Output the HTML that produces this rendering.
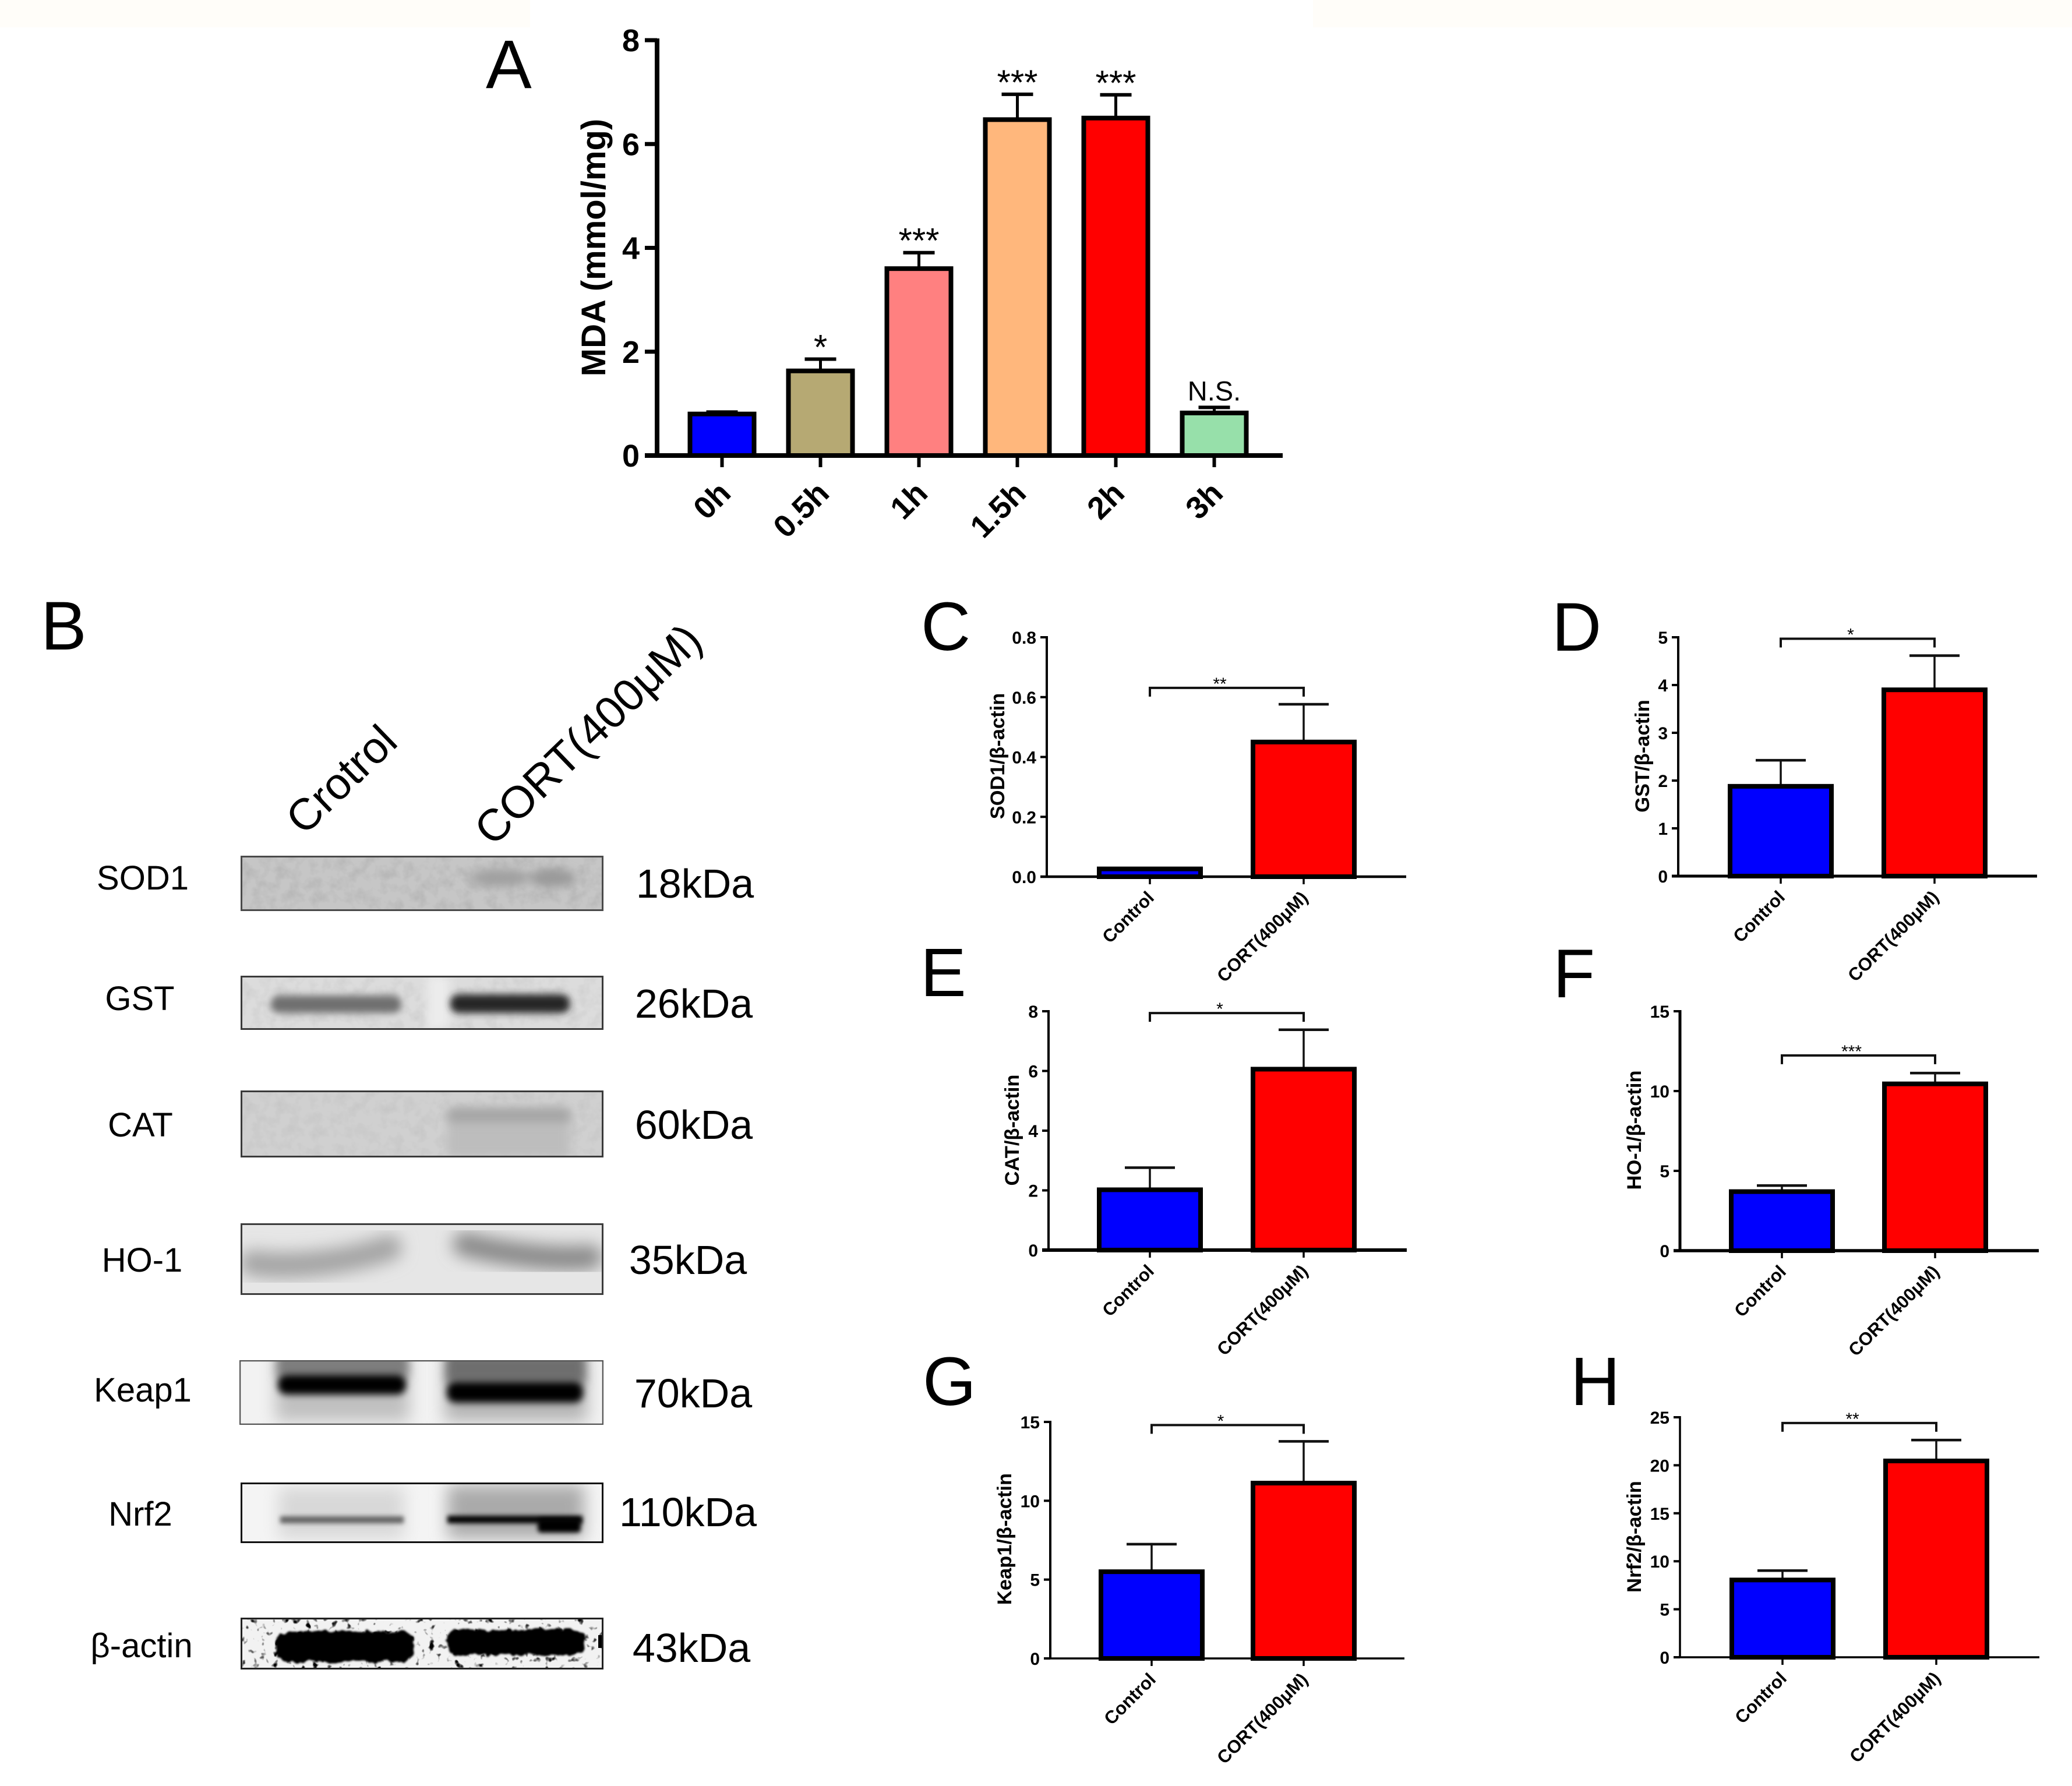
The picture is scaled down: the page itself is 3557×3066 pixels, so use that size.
<!DOCTYPE html>
<html lang="en">
<head>
<meta charset="utf-8">
<title>MDA and antioxidant protein expression figure</title>
<style>
html,body{margin:0;padding:0;background:#fff;}
svg{display:block;}
text{font-family:"Liberation Sans","DejaVu Sans",sans-serif;fill:#000;}
</style>
</head>
<body>
<svg id="figure" xmlns="http://www.w3.org/2000/svg" width="3557" height="3066" viewBox="0 0 3557 3066">
<defs>
<filter id="b4" x="-30%" y="-100%" width="160%" height="300%"><feGaussianBlur stdDeviation="4"/></filter>
<filter id="b6" x="-30%" y="-100%" width="160%" height="300%"><feGaussianBlur stdDeviation="6"/></filter>
<filter id="b8" x="-30%" y="-100%" width="160%" height="300%"><feGaussianBlur stdDeviation="8"/></filter>
<filter id="b14" x="-30%" y="-100%" width="160%" height="300%"><feGaussianBlur stdDeviation="14"/></filter>
<filter id="specks" x="0" y="0" width="100%" height="100%">
<feTurbulence type="fractalNoise" baseFrequency="0.09" numOctaves="2" seed="7"/>
<feColorMatrix type="matrix" values="0 0 0 0 0  0 0 0 0 0  0 0 0 0 0  3.2 3.2 0 0 -3.6"/>
</filter>
<filter id="grain" x="0" y="0" width="100%" height="100%">
<feTurbulence type="fractalNoise" baseFrequency="0.05" numOctaves="3" seed="3"/>
<feColorMatrix type="matrix" values="0 0 0 0 0  0 0 0 0 0  0 0 0 0 0  0.9 0 0 0 -0.36"/>
</filter>
<filter id="ragged" x="-10%" y="-60%" width="120%" height="220%">
<feTurbulence type="fractalNoise" baseFrequency="0.07" numOctaves="2" seed="11" result="n"/>
<feDisplacementMap in="SourceGraphic" in2="n" scale="14" xChannelSelector="R" yChannelSelector="G"/>
<feGaussianBlur stdDeviation="1.5"/>
</filter>
</defs>
<rect width="3557" height="3066" fill="#ffffff"/>
<rect width="910" height="47" fill="#fffdf9"/>
<rect x="2254" width="1303" height="47" fill="#fffdf9"/>

<g font-size="118">
<text x="834" y="151" font-size="118">A</text>
<text x="70" y="1115">B</text>
<text x="1581" y="1116">C</text>
<text x="2664" y="1117">D</text>
<text x="1580" y="1710">E</text>
<text x="2666" y="1712">F</text>
<text x="1584" y="2412">G</text>
<text x="2696" y="2412">H</text>
</g>

<g>
<text font-size="76" transform="translate(522,1436) rotate(-44)">Crotrol</text>
<text font-size="77" transform="translate(846,1455) rotate(-44)">CORT(400μM)</text>

<g font-size="58" text-anchor="middle">
<text x="245" y="1527">SOD1</text>
<text x="240" y="1734">GST</text>
<text x="241" y="1951">CAT</text>
<text x="244" y="2183">HO-1</text>
<text x="245" y="2406">Keap1</text>
<text x="241" y="2619">Nrf2</text>
<text x="243" y="2845">β-actin</text>
</g>
<g font-size="70" text-anchor="middle">
<text x="1193" y="1541">18kDa</text>
<text x="1191" y="1747">26kDa</text>
<text x="1191" y="1955">60kDa</text>
<text x="1181" y="2187">35kDa</text>
<text x="1190" y="2416">70kDa</text>
<text x="1181" y="2620">110kDa</text>
<text x="1187" y="2853">43kDa</text>
</g>

<svg x="413" y="1469" width="623" height="95" viewBox="0 0 623 95">
<rect width="623" height="95" fill="#c6c6c6"/>
<rect width="623" height="95" filter="url(#grain)" opacity=".18"/>
<ellipse cx="445" cy="38" rx="52" ry="15" fill="#a0a0a0" filter="url(#b8)"/>
<ellipse cx="535" cy="38" rx="40" ry="16" fill="#9a9a9a" filter="url(#b8)"/>
<rect x="1.5" y="1.5" width="620" height="92" fill="none" stroke="#4a4a4a" stroke-width="3"/>
</svg>
<svg x="413" y="1675" width="623" height="93" viewBox="0 0 623 93">
<rect width="623" height="93" fill="#dcdcdc"/>
<rect width="623" height="93" filter="url(#grain)" opacity=".12"/>
<rect x="320" width="40" height="93" fill="#ececec" filter="url(#b8)"/>
<rect x="52" y="34" width="224" height="30" rx="14" fill="#707070" filter="url(#b6)"/>
<rect x="360" y="32" width="205" height="32" rx="14" fill="#262626" filter="url(#b6)"/>
<rect x="1.5" y="1.5" width="620" height="90" fill="none" stroke="#3a3a3a" stroke-width="3"/>
</svg>
<svg x="413" y="1872" width="623" height="115" viewBox="0 0 623 115">
<rect width="623" height="115" fill="#d0d0d0"/>
<rect width="623" height="115" filter="url(#grain)" opacity=".1"/>
<rect x="355" y="30" width="210" height="85" fill="#bdbdbd" filter="url(#b8)"/>
<rect x="357" y="32" width="208" height="22" rx="8" fill="#a4a4a4" filter="url(#b8)"/>
<rect x="1.5" y="1.5" width="620" height="112" fill="none" stroke="#3a3a3a" stroke-width="3"/>
</svg>
<svg x="413" y="2100" width="623" height="123" viewBox="0 0 623 123">
<rect width="623" height="123" fill="#e6e6e6"/>
<path d="M20 68 C80 78 180 68 255 42" fill="none" stroke="#a4a4a4" stroke-width="44" stroke-linecap="round" filter="url(#b14)"/>
<path d="M385 36 C450 52 540 64 600 58" fill="none" stroke="#8a8a8a" stroke-width="42" stroke-linecap="round" filter="url(#b14)"/>
<rect x="1.5" y="1.5" width="620" height="120" fill="none" stroke="#3c3c3c" stroke-width="3"/>
</svg>
<svg x="411" y="2335" width="625" height="111" viewBox="0 0 625 111">
<rect width="625" height="111" fill="#f2f2f2"/>
<rect x="62" y="-10" width="230" height="115" fill="#c0c0c0" filter="url(#b14)"/>
<rect x="352" y="-10" width="245" height="115" fill="#b4b4b4" filter="url(#b14)"/>
<rect x="64" y="-10" width="226" height="40" fill="#7d7d7d" filter="url(#b8)"/>
<rect x="354" y="-10" width="240" height="50" fill="#6e6e6e" filter="url(#b8)"/>
<rect x="66" y="25" width="220" height="34" rx="15" fill="#000" filter="url(#b6)"/>
<rect x="356" y="37" width="234" height="36" rx="15" fill="#000" filter="url(#b6)"/>
<rect x="1" y="1" width="623" height="109" fill="none" stroke="#555" stroke-width="2.5"/>
</svg>
<svg x="413" y="2545" width="623" height="104" viewBox="0 0 623 104">
<rect width="623" height="104" fill="#f4f4f4"/>
<rect x="65" y="8" width="216" height="88" fill="#d8d8d8" filter="url(#b14)"/>
<rect x="355" y="4" width="235" height="92" fill="#aaaaaa" filter="url(#b14)"/>
<rect x="68" y="58" width="212" height="12" fill="#636363" filter="url(#b4)"/>
<rect x="355" y="57" width="232" height="13" fill="#000" filter="url(#b4)"/>
<rect x="510" y="62" width="74" height="24" rx="6" fill="#000" filter="url(#b4)"/>
<rect x="1.5" y="1.5" width="620" height="101" fill="none" stroke="#111" stroke-width="3"/>
</svg>
<svg x="413" y="2777" width="623" height="89" viewBox="0 0 623 89">
<rect width="623" height="89" fill="#f2f2f2"/>
<rect width="623" height="89" filter="url(#specks)"/>
<rect x="61" y="24" width="236" height="52" rx="22" fill="#000" filter="url(#ragged)"/>
<rect x="355" y="20" width="237" height="44" rx="18" fill="#000" filter="url(#ragged)"/>
<rect x="614" y="30" width="12" height="22" fill="#000"/>
<rect x="1.5" y="1.5" width="620" height="86" fill="none" stroke="#222" stroke-width="3"/>
</svg>
</g>

<g id="charts"></g>
</svg>

<script>
// Panel A data
const mdaCategories = ['0h', '0.5h', '1h', '1.5h', '2h', '3h'];
const mdaMeans = [0.8, 1.63, 3.6, 6.47, 6.5, 0.82];
const mdaErrors = [0.06, 0.25, 0.33, 0.51, 0.47, 0.13];
const mdaColors = ['#0000ff', '#b6a973', '#ff8080', '#ffb77c', '#ff0000', '#97e0aa'];
const mdaSignificance = ['', '*', '***', '***', '***', 'N.S.'];
const mdaTicks = [0, 2, 4, 6, 8];
const mdaTickLabels = ['0', '2', '4', '6', '8'];

// Shared two-group panels
const groupCategories = ['Control', 'CORT(400μM)'];
const groupColors = ['#0000ff', '#ff0000'];

const sod1Means = [0.026, 0.45];
const sod1Errors = [0.004, 0.13];
const sod1Ticks = [0, 0.2, 0.4, 0.6, 0.8];
const sod1TickLabels = ['0.0', '0.2', '0.4', '0.6', '0.8'];

const gstMeans = [1.88, 3.9];
const gstErrors = [0.57, 0.74];
const gstTicks = [0, 1, 2, 3, 4, 5];
const gstTickLabels = ['0', '1', '2', '3', '4', '5'];

const catMeans = [2.02, 6.06];
const catErrors = [0.78, 1.36];
const catTicks = [0, 2, 4, 6, 8];
const catTickLabels = ['0', '2', '4', '6', '8'];

const ho1Means = [3.7, 10.45];
const ho1Errors = [0.45, 0.75];
const ho1Ticks = [0, 5, 10, 15];
const ho1TickLabels = ['0', '5', '10', '15'];

const keap1Means = [5.5, 11.12];
const keap1Errors = [1.82, 2.72];
const keap1Ticks = [0, 5, 10, 15];
const keap1TickLabels = ['0', '5', '10', '15'];

const nrf2Means = [8.05, 20.45];
const nrf2Errors = [1.1, 2.3];
const nrf2Ticks = [0, 5, 10, 15, 20, 25];
const nrf2TickLabels = ['0', '5', '10', '15', '20', '25'];

const svgNS = 'http://www.w3.org/2000/svg';
const root = document.getElementById('charts');

function mk(parent, tag, attrs, content) {
  const el = document.createElementNS(svgNS, tag);
  for (const k in attrs) el.setAttribute(k, attrs[k]);
  if (content !== undefined) el.textContent = content;
  parent.appendChild(el);
  return el;
}

function drawMda() {
  const g = mk(root, 'g', {});
  
  
  const xZero = 1128, yTop = 69, yZero = 782, xLeft = 1107, xEnd = 2202;
  const first = 1239.5, step = 169, barW = 110, maxV = 8;
  const x = i => first + i * step;
  const y = v => yZero - (v / maxV) * (yZero - yTop);

  mdaCategories.forEach((cat, i) => {
    const top = y(mdaMeans[i] + mdaErrors[i]);
    const stem = mk(g, 'line', {x1: x(i), x2: x(i), y1: top, y2: y(mdaMeans[i]), stroke: '#000', 'stroke-width': 5});
    
    
    const cap = mk(g, 'line', {x1: x(i) - 27, x2: x(i) + 27, y1: top + 2, y2: top + 2, stroke: '#000', 'stroke-width': 6});
    
    
    const bar = mk(g, 'rect', {x: x(i) - barW / 2, y: y(mdaMeans[i]), width: barW, height: yZero - y(mdaMeans[i]), fill: mdaColors[i], stroke: '#000', 'stroke-width': 8});
    
    
    const tick = mk(g, 'line', {x1: x(i), x2: x(i), y1: yZero, y2: yZero + 20, stroke: '#000', 'stroke-width': 6});
    
    
    const lab = mk(g, 'text', {'text-anchor': 'end', 'font-size': 54, 'font-weight': 'bold', transform: 'translate(' + (x(i) + 18) + ',' + (yZero + 68) + ') rotate(-45)'}, cat);
    
    
    if (mdaSignificance[i]) {
      const isNs = mdaSignificance[i] === 'N.S.';
      const sig = mk(g, 'text', {x: x(i), y: top + (isNs ? -10 : 2), 'text-anchor': 'middle', 'font-size': isNs ? 47 : 60}, mdaSignificance[i]);
      
      
    }
  });

  const yAxis = mk(g, 'line', {x1: xZero, x2: xZero, y1: yTop - 3, y2: yZero, stroke: '#000', 'stroke-width': 8});
  
  
  const xAxis = mk(g, 'line', {x1: xLeft, x2: xEnd, y1: yZero, y2: yZero, stroke: '#000', 'stroke-width': 8});
  
  

  mdaTicks.forEach((t, i) => {
    const tick = mk(g, 'line', {x1: xLeft, x2: xZero, y1: y(t), y2: y(t), stroke: '#000', 'stroke-width': 7});
    
    
    const lab = mk(g, 'text', {x: 1098, y: y(t) + 19, 'text-anchor': 'end', 'font-size': 54, 'font-weight': 'bold'}, mdaTickLabels[i]);
    
    
  });

  const title = mk(g, 'text', {'text-anchor': 'middle', 'font-size': 58, 'font-weight': 'bold', transform: 'translate(1039,425) rotate(-90)'}, 'MDA (mmol/mg)');
  
  
}

function drawGroupPanel(name, frame, means, errors, ticks, tickLabels, maxV, titleText, stars, bracketY) {
  const g = mk(root, 'g', {});
  
  
  const y = v => frame.yZero - (v / maxV) * (frame.yZero - frame.yTop);
  const x = i => frame.first + i * frame.step;
  const barW = 174;

  groupCategories.forEach((cat, i) => {
    const top = y(means[i] + errors[i]);
    const stem = mk(g, 'line', {x1: x(i), x2: x(i), y1: top, y2: y(means[i]), stroke: '#111', 'stroke-width': 3.5});
    
    
    if (means[i] / maxV > 0.05) {
      const cap = mk(g, 'line', {x1: x(i) - 43, x2: x(i) + 43, y1: top + 2, y2: top + 2, stroke: '#111', 'stroke-width': 4.5});
      
      
    }
    const bar = mk(g, 'rect', {x: x(i) - barW / 2, y: y(means[i]), width: barW, height: frame.yZero - y(means[i]), fill: groupColors[i], stroke: '#000', 'stroke-width': 8});
    
    
    const tick = mk(g, 'line', {x1: x(i), x2: x(i), y1: frame.yZero, y2: frame.yZero + 13, stroke: '#000', 'stroke-width': 3.5});
    
    
    const lab = mk(g, 'text', {'text-anchor': 'end', 'font-size': 31, 'font-weight': 'bold', transform: 'translate(' + (x(i) + 9) + ',' + (frame.yZero + 38) + ') rotate(-45)'}, cat);
    
    
  });

  const yAxis = mk(g, 'line', {x1: frame.x0, x2: frame.x0, y1: frame.yTop - 2, y2: frame.yZero, stroke: '#000', 'stroke-width': frame.yw});
  
  
  const xAxis = mk(g, 'line', {x1: frame.x0 - 11, x2: frame.xEnd, y1: frame.yZero, y2: frame.yZero, stroke: '#000', 'stroke-width': frame.xw});
  
  

  ticks.forEach((t, i) => {
    const tick = mk(g, 'line', {x1: frame.x0 - 11, x2: frame.x0, y1: y(t), y2: y(t), stroke: '#000', 'stroke-width': 4});
    
    
    const lab = mk(g, 'text', {x: frame.x0 - 18, y: y(t) + 11, 'text-anchor': 'end', 'font-size': 30, 'font-weight': 'bold'}, tickLabels[i]);
    
    
  });

  const title = mk(g, 'text', {'text-anchor': 'middle', 'font-size': 34.5, 'font-weight': 'bold', transform: 'translate(' + frame.titleX + ',' + frame.titleY + ') rotate(-90)'}, titleText);
  
  

  const by = y(bracketY);
  const bracket = mk(g, 'path', {d: 'M' + x(0) + ' ' + (by + 15) + 'V' + by + 'H' + x(1) + 'V' + (by + 15), fill: 'none', stroke: '#111', 'stroke-width': 4});
  
  
  const star = mk(g, 'text', {x: (x(0) + x(1)) / 2 - 12, y: by + 3, 'text-anchor': 'middle', 'font-size': 30, fill: '#222'}, stars);
  
  
}

drawMda();
drawGroupPanel('sod1', {x0: 1797, yTop: 1094, yZero: 1505, xEnd: 2414, first: 1974, step: 264, yw: 4, xw: 4.5, titleX: 1724, titleY: 1298}, sod1Means, sod1Errors, sod1Ticks, sod1TickLabels, 0.8, 'SOD1/β-actin', '**', 0.631);
drawGroupPanel('gst', {x0: 2881, yTop: 1094, yZero: 1504, xEnd: 3497, first: 3057, step: 264, yw: 4, xw: 5, titleX: 2831, titleY: 1298}, gstMeans, gstErrors, gstTicks, gstTickLabels, 5, 'GST/β-actin', '*', 4.97);
drawGroupPanel('cat', {x0: 1800, yTop: 1736, yZero: 2146, xEnd: 2415, first: 1974, step: 264, yw: 4, xw: 6, titleX: 1749, titleY: 1940}, catMeans, catErrors, catTicks, catTickLabels, 8, 'CAT/β-actin', '*', 7.94);
drawGroupPanel('ho1', {x0: 2884, yTop: 1736, yZero: 2147, xEnd: 3500, first: 3059, step: 263, yw: 5, xw: 5.5, titleX: 2817, titleY: 1940}, ho1Means, ho1Errors, ho1Ticks, ho1TickLabels, 15, 'HO-1/β-actin', '***', 12.23);
drawGroupPanel('keap1', {x0: 1803, yTop: 2441, yZero: 2847, xEnd: 2411, first: 1977, step: 261, yw: 4, xw: 3.5, titleX: 1736, titleY: 2642}, keap1Means, keap1Errors, keap1Ticks, keap1TickLabels, 15, 'Keap1/β-actin', '*', 14.8);
drawGroupPanel('nrf2', {x0: 2884, yTop: 2433, yZero: 2845, xEnd: 3501, first: 3060, step: 264, yw: 3.5, xw: 3.5, titleX: 2817, titleY: 2638}, nrf2Means, nrf2Errors, nrf2Ticks, nrf2TickLabels, 25, 'Nrf2/β-actin', '**', 24.4);
</script>
</body>
</html>
